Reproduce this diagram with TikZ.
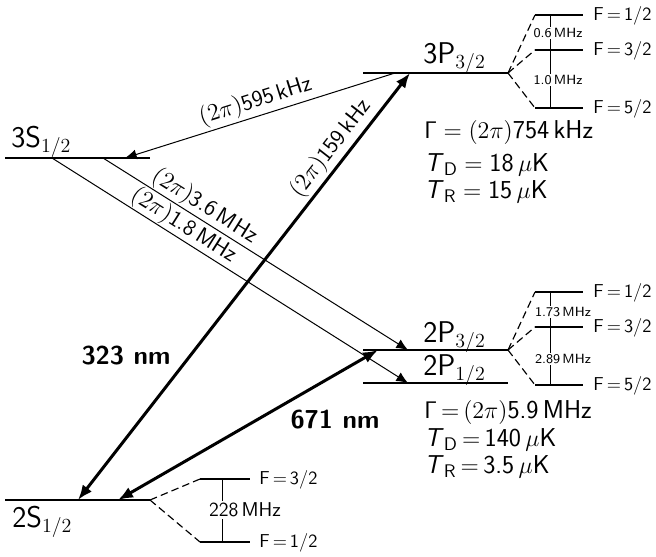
\documentclass[tikz,border=0pt]{standalone}
\usetikzlibrary{arrows.meta}
\renewcommand{\familydefault}{\sfdefault}
\newcommand{\fs}[1]{\fontsize{#1}{#1}\selectfont}
\newcommand{\mT}{\textsl{T}}
\tikzset{
  level/.style={line width=1.5pt},
  hfline/.style={line width=0.9pt},
  hfdash/.style={line width=0.7pt, dash pattern=on 4.5pt off 2.5pt},
  vbar/.style={line width=0.6pt},
  trans/.style={line width=0.6pt, -{Latex[length=7pt,width=6pt]}},
  laser/.style={line width=1.8pt, {Latex[length=9pt,width=7pt]}-{Latex[length=9pt,width=7pt]}},
  lvllab/.style={inner sep=0pt, font=\fs{18}},
  info/.style={inner sep=0pt, anchor=base west, font=\fs{15.5}},
  flab/.style={inner sep=0pt, anchor=west, font=\fs{11.2}},
  small/.style={inner sep=1pt, fill=white, font=\fs{8}},
  arrlab/.style={inner sep=1.5pt, font=\fs{13.5}},
  nmlab/.style={inner sep=0pt, font=\fs{15.5}\bfseries},
}
\begin{document}
\begin{tikzpicture}[x=0.6pt,y=-0.6pt]
\useasboundingbox (0,0) rectangle (656,556);
% ---- level coordinates
\coordinate (P3a) at (363,73);  \coordinate (P3b) at (508,73);
\coordinate (S3a) at (5,158);   \coordinate (S3b) at (150,158);
\coordinate (P2a) at (363,350); \coordinate (P2b) at (508,350);
\coordinate (P1a) at (363,383); \coordinate (P1b) at (508,383);
\coordinate (S2a) at (5,500);   \coordinate (S2b) at (150,500);
\draw[level] (P3a) -- (P3b);
\draw[level] (S3a) -- (S3b);
\draw[level] (P2a) -- (P2b);
\draw[level] (P1a) -- (P1b);
\draw[level] (S2a) -- (S2b);
% ---- level labels
\node[lvllab, anchor=base west] (P3lab) at (423,63) {3P$_{3/2}$};
\node[lvllab, anchor=base west] (S3lab) at (11,147) {3S$_{1/2}$};
\node[lvllab, anchor=base west] (P2lab) at (423,342) {2P$_{3/2}$};
\node[lvllab, anchor=base west] (P1lab) at (423,375) {2P$_{1/2}$};
\node[lvllab, anchor=base west] (S2lab) at (12,527) {2S$_{1/2}$};
% ---- info blocks
\node[info] (G3) at (424,138) {$\mathsf{\Gamma} = (2\pi)$754\,kHz};
\node[info] (TD3) at (424,171) {\mT$_\mathsf{D}={}$18\,$\mu$K};
\node[info] (TR3) at (424,198) {\mT$_\mathsf{R}={}$15\,$\mu$K};
\node[info] (G2) at (424,418) {$\mathsf{\Gamma}\,{=}\,(2\pi)$5.9\,MHz};
\node[info] (TD2) at (424,446) {\mT$_\mathsf{D}$\,$=$\,140\,$\mu$K};
\node[info] (TR2) at (424,473) {\mT$_\mathsf{R}$\,$=$\,3.5\,$\mu$K};
% ---- 3P hyperfine
\coordinate (h3a) at (535,15); \coordinate (h3b) at (535,50); \coordinate (h3c) at (535,108);
\draw[hfline] (h3a) -- ++(48,0); \draw[hfline] (h3b) -- ++(48,0); \draw[hfline] (h3c) -- ++(48,0);
\draw[hfdash] (P3b) -- (h3a); \draw[hfdash] (P3b) -- (h3b); \draw[hfdash] (P3b) -- (h3c);
\draw[vbar] (550,15) -- (550,108);
\node[small] (m3a) at (558,33) {0.6\,MHz};
\node[small] (m3b) at (558,80) {1.0\,MHz};
\node[flab] (f3a) at (593,16) {F$\,=\,$1/2};
\node[flab] (f3b) at (593,51) {F$\,=\,$3/2};
\node[flab] (f3c) at (593,109) {F$\,=\,$5/2};
% ---- 2P hyperfine
\coordinate (h2a) at (535,292); \coordinate (h2b) at (535,327); \coordinate (h2c) at (535,385);
\draw[hfline] (h2a) -- ++(48,0); \draw[hfline] (h2b) -- ++(48,0); \draw[hfline] (h2c) -- ++(48,0);
\draw[hfdash] (P2b) -- (h2a); \draw[hfdash] (P2b) -- (h2b); \draw[hfdash] (P2b) -- (h2c);
\draw[vbar] (550,292) -- (550,385);
\node[small] (m2a) at (563,312) {1.73\,MHz};
\node[small] (m2b) at (563,359) {2.89\,MHz};
\node[flab] (f2a) at (593,293) {F$\,=\,$1/2};
\node[flab] (f2b) at (593,328) {F$\,=\,$3/2};
\node[flab] (f2c) at (593,386) {F$\,=\,$5/2};
% ---- 2S hyperfine
\coordinate (h1a) at (200,479); \coordinate (h1b) at (200,542);
\draw[hfline] (h1a) -- ++(50,0); \draw[hfline] (h1b) -- ++(50,0);
\draw[hfdash] (S2b) -- (h1a); \draw[hfdash] (S2b) -- (h1b);
\draw[vbar] (222,479) -- (222,542);
\node[small, font=\fs{12}] (m1) at (245,510) {228\,MHz};
\node[flab] (f1a) at (259,480) {F$\,=\,$3/2};
\node[flab] (f1b) at (259,543) {F$\,=\,$1/2};
% ---- transitions
\coordinate (t1s) at (395,73);  \coordinate (t1e) at (125,158);
\draw[trans] (t1s) -- node[arrlab, sloped, above, pos=0.5] (l595) {$(2\pi)$595\,kHz} (t1e);
\coordinate (t2s) at (103,158); \coordinate (t2e) at (408,350);
\draw[trans] (t2s) -- node[arrlab, sloped, above, pos=0.31, inner sep=0.5pt] (l36) {$(2\pi)$3.6\,MHz} (t2e);
\coordinate (t3s) at (52,158);  \coordinate (t3e) at (408,383);
\draw[trans] (t3s) -- node[arrlab, sloped, above, pos=0.35, inner sep=0.5pt] (l18) {$(2\pi)$1.8\,MHz} (t3e);
% ---- lasers
\coordinate (u1) at (78,500);  \coordinate (u2) at (410,73);
\draw[laser] (u1) -- node[arrlab, sloped, above, pos=0.8] (l159) {$(2\pi)$159\,kHz} (u2);
\coordinate (r1) at (118,500); \coordinate (r2) at (378,350);
\draw[laser] (r1) -- (r2);
\node[nmlab] (n323) at (126,356) {323 nm};
\node[nmlab] (n671) at (335,420) {671 nm};
\end{tikzpicture}
\end{document}
